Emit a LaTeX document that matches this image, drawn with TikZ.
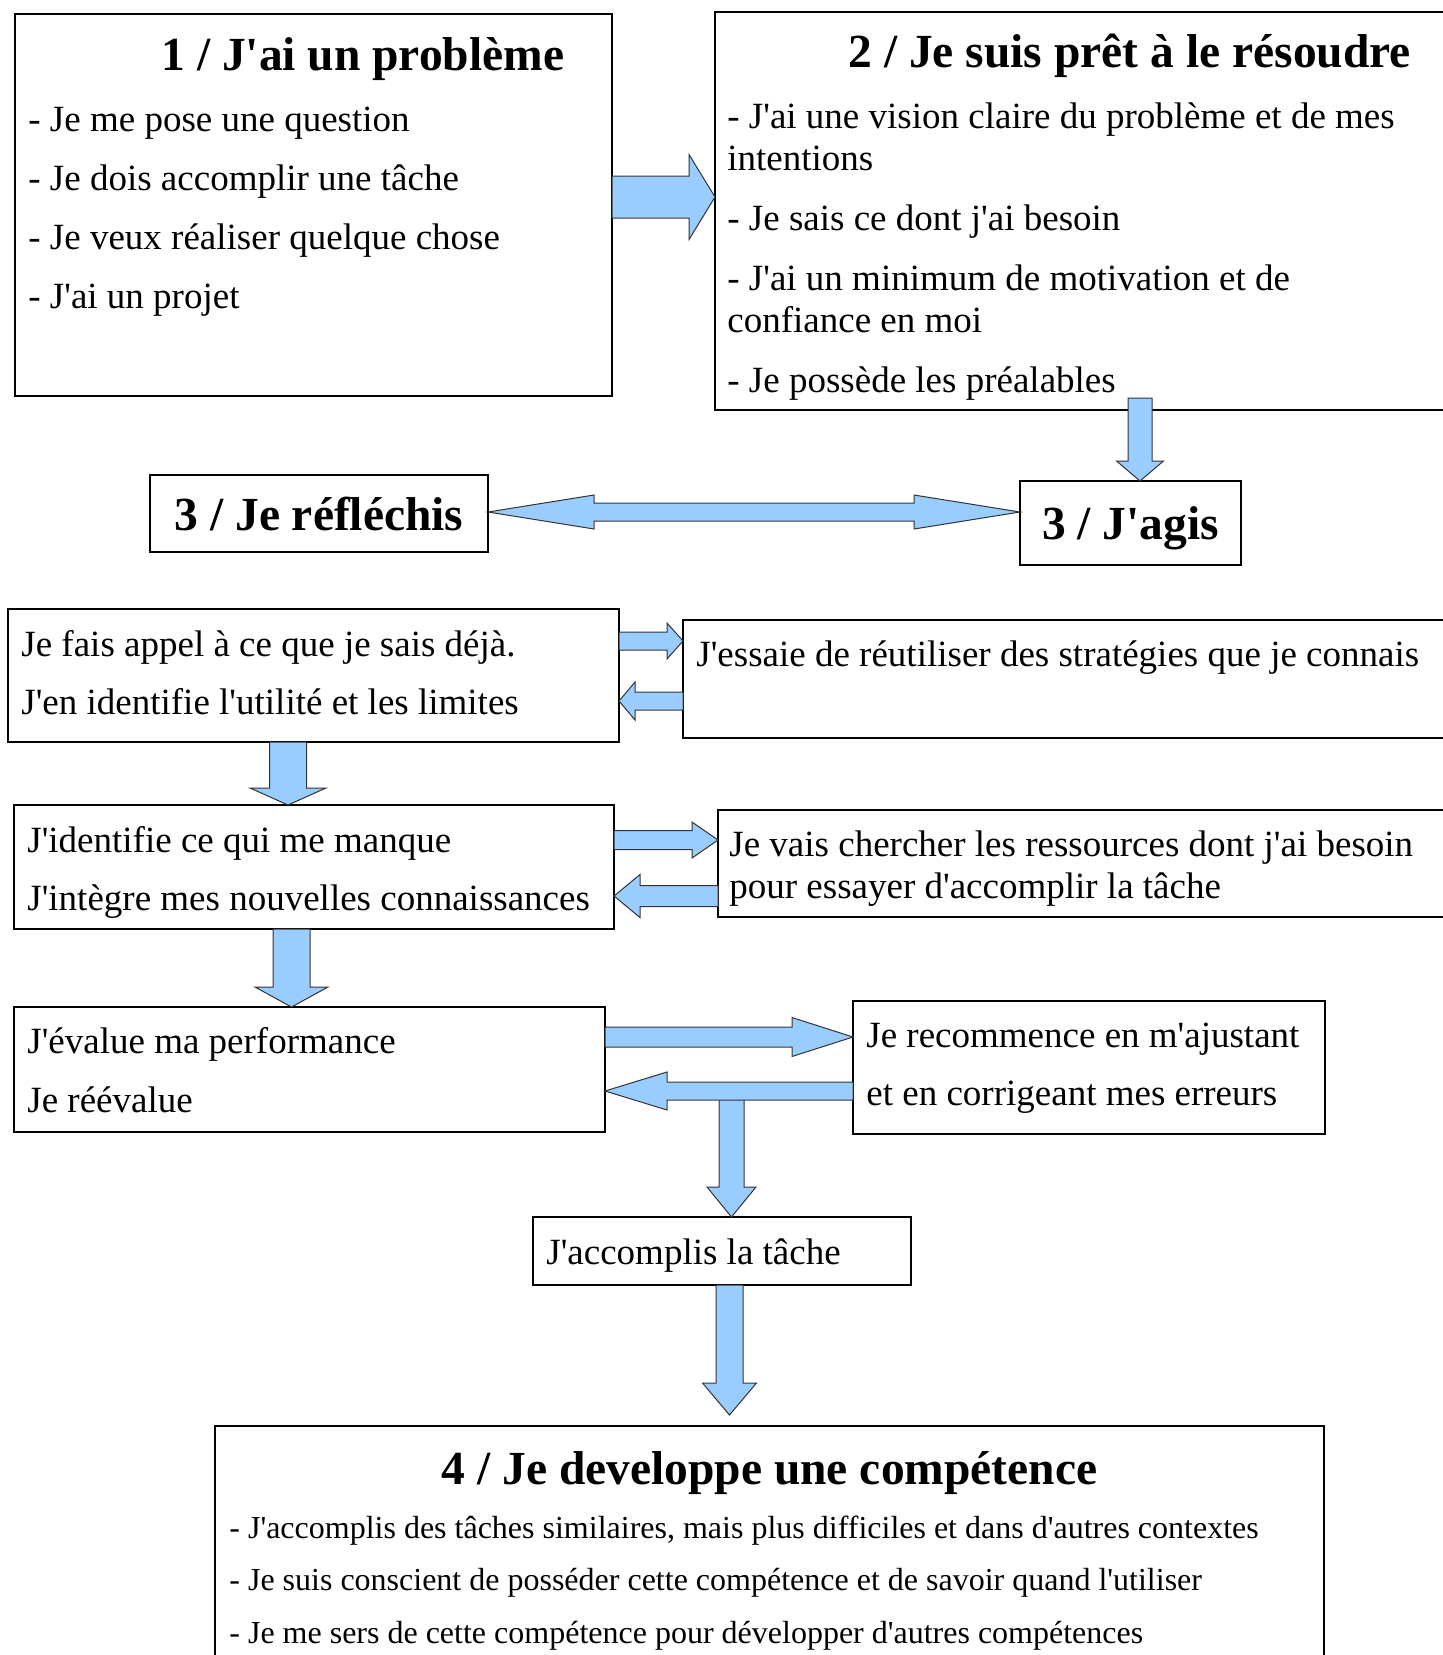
\documentclass[tikz,border=0pt]{standalone}
\usepackage{fontspec}
\setmainfont{Liberation Serif}[Ligatures={TeXOff,CommonOff}]
\usetikzlibrary{calc,positioning}
\definecolor{arrowblue}{RGB}{153,204,255}

\newcommand{\blockarrow}[5]{%
  \coordinate (ba-s) at (#1);
  \coordinate (ba-t) at (#2);
  \coordinate (ba-b) at ($(ba-t)!#5!(ba-s)$);
  \draw[barrow] ($(ba-s)!#3!90:(ba-t)$) -- ($(ba-b)!#3!90:(ba-t)$)
    -- ($(ba-b)!#4!90:(ba-t)$) -- (ba-t) -- ($(ba-b)!#4!-90:(ba-t)$)
    -- ($(ba-b)!#3!-90:(ba-t)$) -- ($(ba-s)!#3!-90:(ba-t)$) -- cycle;}

\newcommand{\dblockarrow}[5]{%
  \coordinate (da-a) at (#1);
  \coordinate (da-b) at (#2);
  \coordinate (da-p) at ($(da-a)!#5!(da-b)$);
  \coordinate (da-q) at ($(da-b)!#5!(da-a)$);
  \draw[barrow] (da-a) -- ($(da-p)!#4!90:(da-b)$) -- ($(da-p)!#3!90:(da-b)$)
    -- ($(da-q)!#3!-90:(da-a)$) -- ($(da-q)!#4!-90:(da-a)$) -- (da-b)
    -- ($(da-q)!#4!90:(da-a)$) -- ($(da-q)!#3!90:(da-a)$)
    -- ($(da-p)!#3!-90:(da-b)$) -- ($(da-p)!#4!-90:(da-b)$) -- cycle;}

\begin{document}
\begin{tikzpicture}[x=0.5pt, y=-0.5pt,
    box/.style={draw, line width=0.75pt, anchor=north west, inner sep=0pt, outer sep=0pt},
    title/.style={font=\fontsize{23.75}{28}\selectfont\bfseries, inner sep=0pt},
    itemtext/.style={anchor=base west, inner sep=0pt, align=flush left, text width=600pt,
                     font=\fontsize{18.5}{#1}\selectfont},
    smalltext/.style={itemtext=#1, font=\fontsize{16}{#1}\selectfont},
    barrow/.style={draw=black!80, fill=arrowblue, line width=0.5pt}
]
\useasboundingbox (0,0) rectangle (1443,1655);

\node[box, minimum width=298.5pt, minimum height=191pt] (b1) at (15,14) {};
\node[box, minimum width=367.5pt, minimum height=199pt] (b2) at (715,12) {};
\node[box, title, text depth=0pt, minimum width=169pt, minimum height=38.5pt] (b3l) at (150,475) {3 / Je réfléchis};
\node[box, title, text depth=0pt, minimum width=110.5pt, minimum height=42pt] (b3r) at (1020,481) {3 / J'agis};
\node[box, minimum width=305.5pt, minimum height=66.5pt] (b4) at (8,609) {};
\node[box, minimum width=383.5pt, minimum height=59pt] (b5) at (683,620) {};
\node[box, minimum width=300pt, minimum height=62pt] (b6) at (14,805) {};
\node[box, minimum width=366pt, minimum height=53.5pt] (b7) at (718,810) {};
\node[box, minimum width=295.5pt, minimum height=62.5pt] (b8) at (14,1007) {};
\node[box, minimum width=236pt, minimum height=66.5pt] (b9) at (853,1001) {};
\node[box, minimum width=189pt, minimum height=34pt] (b10) at (533,1217) {};
\node[box, minimum width=554.5pt, minimum height=119.5pt] (b11) at (215,1426) {};

\node[title, anchor=base west] (t1) at (161,70) {1 / J'ai un problème};
\node[itemtext=29.5pt] (l1) at (28,131) {- Je me pose une question\\- Je dois accomplir une tâche\\- Je veux réaliser quelque chose\\- J'ai un projet};
\node[title, anchor=base west] (t2) at (848,67) {2 / Je suis prêt à le résoudre};
\node[itemtext=21pt] (l2) at (727,128) {- J'ai une vision claire du problème et de mes\\intentions\\[9pt]- Je sais ce dont j'ai besoin\\[9pt]- J'ai un minimum de motivation et de\\confiance en moi\\[9pt]- Je possède les préalables};
\node[itemtext=29pt] (l4) at (21,656) {Je fais appel à ce que je sais déjà.\\J'en identifie l'utilité et les limites};
\node[itemtext=29pt] (l5) at (696,666) {J'essaie de réutiliser des stratégies que je connais};
\node[itemtext=29pt] (l6) at (27,852) {J'identifie ce qui me manque\\J'intègre mes nouvelles connaissances};
\node[itemtext=21pt] (l7) at (729,856) {Je vais chercher les ressources dont j'ai besoin\\pour essayer d'accomplir la tâche};
\node[itemtext=29.5pt] (l8) at (27,1053) {J'évalue ma performance\\Je réévalue};
\node[itemtext=29pt] (l9) at (866,1047) {Je recommence en m'ajustant\\et en corrigeant mes erreurs};
\node[itemtext=29pt] (l10) at (546,1264) {J'accomplis la tâche};
\node[title, anchor=base] (t11) at (769.5,1484) {4 / Je developpe une compétence};
\node[smalltext=26.4pt] (l11) at (229,1538) {- J'accomplis des tâches similaires, mais plus difficiles et dans d'autres contextes\\- Je suis conscient de posséder cette compétence et de savoir quand l'utiliser\\- Je me sers de cette compétence pour développer d'autres compétences};

\blockarrow{[yshift=4pt]b1.east}{[yshift=7pt]b2.west}{10.5pt}{21.25pt}{13pt}
\blockarrow{[xshift=28.75pt,yshift=6pt]b2.south}{[xshift=4.75pt]b3r.north}{6pt}{11.75pt}{10pt}
\dblockarrow{[yshift=0.75pt]b3l.east}{[yshift=5.5pt]b3r.west}{4.5pt}{8.5pt}{53pt}
\blockarrow{[yshift=17.25pt]b4.east}{[yshift=19pt]b5.west}{4.5pt}{9pt}{8pt}
\blockarrow{[yshift=-11pt]b5.west}{[yshift=-12.75pt]b4.east}{4.5pt}{9.5pt}{8pt}
\blockarrow{[xshift=-12.75pt]b4.south}{[xshift=-13pt]b6.north}{9.25pt}{19pt}{8.5pt}
\blockarrow{[yshift=13.5pt]b6.east}{[yshift=11.75pt]b7.west}{4.75pt}{9pt}{13pt}
\blockarrow{[yshift=-16.25pt]b7.west}{[yshift=-14.5pt]b6.east}{5.25pt}{10.75pt}{13pt}
\blockarrow{[xshift=-11.25pt]b6.south}{[xshift=-9pt]b8.north}{9.25pt}{18.25pt}{10pt}
\blockarrow{[yshift=16.25pt]b8.east}{[yshift=15.25pt]b9.west}{5pt}{9.75pt}{30.5pt}
\coordinate (split) at (731.5,1091);
\blockarrow{split}{split |- b10.north}{6.25pt}{12.25pt}{15pt}
\blockarrow{[yshift=-11.75pt]b9.west}{[yshift=-10.75pt]b8.east}{4.5pt}{9.5pt}{31pt}
\blockarrow{[xshift=3.75pt]b10.south}{[xshift=-20pt,yshift=5.5pt]b11.north}{6.75pt}{13.5pt}{16pt}

\end{tikzpicture}
\end{document}
